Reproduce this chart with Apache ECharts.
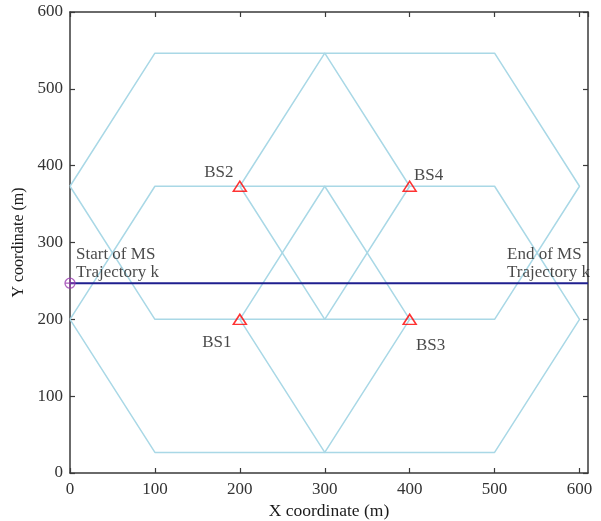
<!DOCTYPE html>
<html><head><meta charset="utf-8">
<script src="https://cdn.jsdelivr.net/npm/echarts@6/dist/echarts.min.js"></script>
<style>html,body{margin:0;padding:0;background:#fff}#c{width:601px;height:521px}</style>
</head><body><div id="c"></div>
<script>
// Base stations
var bsNames = ['BS1', 'BS2', 'BS3', 'BS4'];
var bsX = [200, 200, 400, 400];
var bsY = [200, 373.2, 200, 373.2];
// Hexagon cells (closed vertex lists) around each BS
var hex1X = [0, 100, 300, 400, 300, 100, 0];
var hex1Y = [200, 373.2, 373.2, 200, 26.8, 26.8, 200];
var hex2X = [0, 100, 300, 400, 300, 100, 0];
var hex2Y = [373.2, 546.4, 546.4, 373.2, 200, 200, 373.2];
var hex3X = [200, 300, 500, 600, 500, 300, 200];
var hex3Y = [200, 373.2, 373.2, 200, 26.8, 26.8, 200];
var hex4X = [200, 300, 500, 600, 500, 300, 200];
var hex4Y = [373.2, 546.4, 546.4, 373.2, 200, 200, 373.2];
// MS trajectory
var trajX = [0, 610];
var trajY = [247, 247];
var trajLabels = ['Start of MS\nTrajectory k', 'End of MS\nTrajectory k'];
// Axis ticks
var xTicks = [0, 100, 200, 300, 400, 500, 600];
var yTicks = [0, 100, 200, 300, 400, 500, 600];

function pts(xs, ys) { return xs.map(function (x, i) { return [x, ys[i]]; }); }

var FONT = 'Liberation Serif';
var axisCol = '#3a3a3a';
var hexCol = '#a9d8e6';
var textCol = '#1a1a1a';

function hexSeries(xs, ys) {
  return { type: 'line', data: pts(xs, ys), symbol: 'none', silent: true,
    lineStyle: { color: hexCol, width: 1.5 }, z: 2, animation: false };
}

var bsLabelCfg = [
  { position: 'left', offset: [4, 23] },
  { position: 'left', offset: [6, -14] },
  { position: 'right', offset: [-6, 26] },
  { position: 'right', offset: [-8, -11] }
];
var trajLabelPos = [[6, -38], [-81, -38]];

var chart = echarts.init(document.getElementById('c'), null, { renderer: 'canvas' });
var commonAxisLine = { show: true, onZero: false, lineStyle: { color: axisCol, width: 1.5 } };
var commonTick = { show: true, inside: true, length: 5, lineStyle: { color: axisCol, width: 1.2 } };
chart.setOption({
  animation: false,
  backgroundColor: '#fff',
  grid: { left: 70, right: 13, top: 12, bottom: 48, containLabel: false, outerBoundsMode: 'none' },
  xAxis: [
    { type: 'value', min: 0, max: 610, interval: 100, position: 'bottom',
      name: 'X coordinate (m)', nameLocation: 'middle', nameGap: 28,
      nameTextStyle: { fontFamily: FONT, fontSize: 17.5, color: textCol },
      axisLine: commonAxisLine, axisTick: commonTick,
      axisLabel: { showMaxLabel: false, fontFamily: FONT, fontSize: 17, color: '#333', margin: 8,
        formatter: function (v) { return xTicks.indexOf(v) >= 0 ? String(v) : ''; } },
      splitLine: { show: false } },
    { type: 'value', min: 0, max: 610, interval: 100, position: 'top',
      axisLine: commonAxisLine, axisTick: commonTick, axisLabel: { show: false }, splitLine: { show: false } }
  ],
  yAxis: [
    { type: 'value', min: 0, max: 600, interval: 100, position: 'left',
      name: 'Y coordinate (m)', nameLocation: 'middle', nameGap: 38,
      nameTextStyle: { fontFamily: FONT, fontSize: 16, color: textCol },
      axisLine: commonAxisLine, axisTick: commonTick,
      axisLabel: { fontFamily: FONT, fontSize: 17, color: '#333', margin: 7,
        formatter: function (v) { return yTicks.indexOf(v) >= 0 ? String(v) : ''; } },
      splitLine: { show: false } },
    { type: 'value', min: 0, max: 600, interval: 100, position: 'right',
      axisLine: commonAxisLine, axisTick: commonTick, axisLabel: { show: false }, splitLine: { show: false } }
  ],
  series: [
    hexSeries(hex1X, hex1Y),
    hexSeries(hex2X, hex2Y),
    hexSeries(hex3X, hex3Y),
    hexSeries(hex4X, hex4Y),
    { type: 'line', data: pts(trajX, trajY), symbol: 'none', silent: true,
      lineStyle: { color: '#1f1f8f', width: 2 }, z: 3 },
    { type: 'scatter', symbol: 'circle', symbolSize: 0, z: 4, silent: true,
      data: pts(trajX, trajY).map(function (p, i) {
        return { value: p, label: { show: true, formatter: trajLabels[i], position: trajLabelPos[i],
          align: 'left', verticalAlign: 'top' } };
      }),
      label: { fontFamily: FONT, fontSize: 17, color: textCol, lineHeight: 18 } },
    { type: 'scatter', data: [[trajX[0], trajY[0]]], z: 5,
      symbol: 'path://M10,0A10,10 0 1,1 -10,0A10,10 0 1,1 10,0ZM-10,0L10,0M0,-10L0,10',
      symbolSize: 10, itemStyle: { color: 'rgba(0,0,0,0)', borderColor: '#9a3bb0', borderWidth: 1.3 } },
    { type: 'scatter', z: 6, symbol: 'triangle', symbolSize: [13, 10],
      itemStyle: { color: 'rgba(0,0,0,0)', borderColor: '#ff0000', borderWidth: 1.5 },
      data: bsX.map(function (x, i) {
        return { value: [x, bsY[i]], name: bsNames[i],
          label: Object.assign({ show: true, formatter: bsNames[i] }, bsLabelCfg[i]) };
      }),
      label: { fontFamily: FONT, fontSize: 17, color: textCol } }
  ]
});
</script></body></html>
